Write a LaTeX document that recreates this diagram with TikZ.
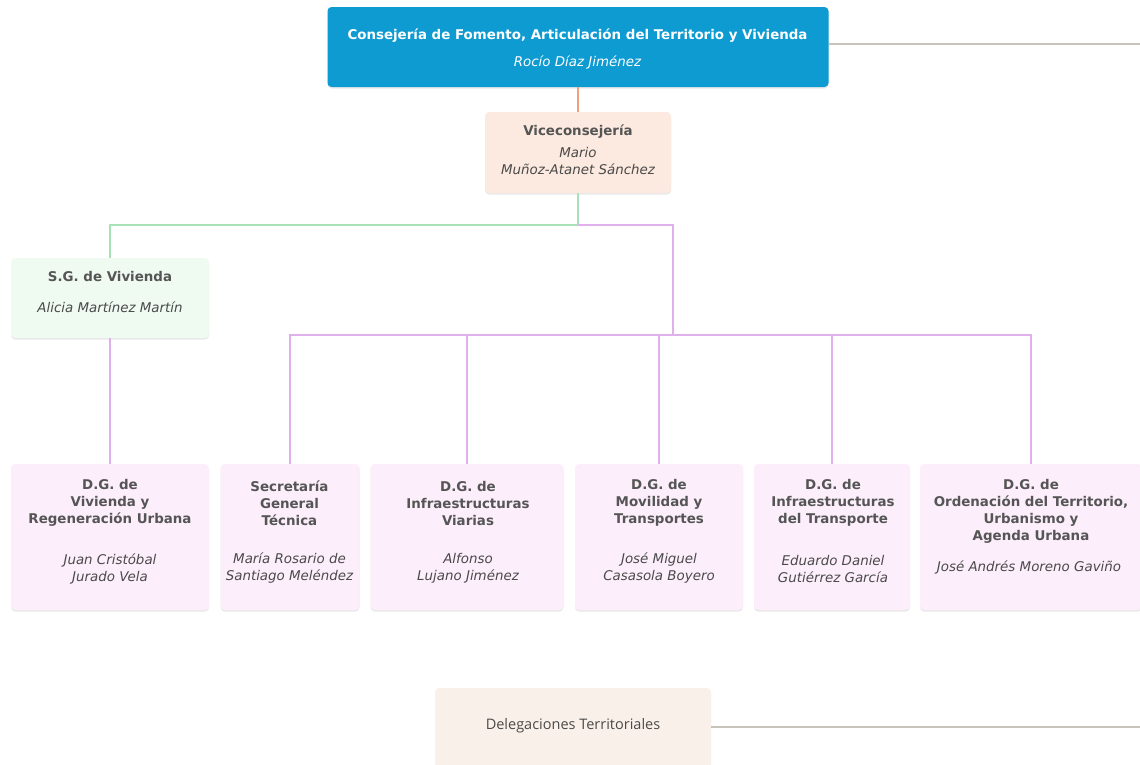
\documentclass[tikz,border=0pt]{standalone}
\usepackage{fontspec}
\setmainfont{DejaVu Sans}
\newfontfamily\delfont{Open Sans}
\usetikzlibrary{shadows}
\definecolor{topblue}{HTML}{0E9BD2}
\definecolor{vicefill}{HTML}{FCE9DF}
\definecolor{sgfill}{HTML}{EFFAF1}
\definecolor{dgfill}{HTML}{FCEEFB}
\definecolor{delfill}{HTML}{FAF0EA}
\definecolor{orline}{HTML}{F0A07A}
\definecolor{grline}{HTML}{A8E0B8}
\definecolor{puline}{HTML}{E0B0EC}
\definecolor{gyline}{HTML}{C8C4BC}
\definecolor{txtgray}{HTML}{555555}
\definecolor{nmgray}{HTML}{4A4A4A}
\tikzset{
  boxnode/.style={draw=none, rounded corners=4pt, inner sep=0pt,
    drop shadow={opacity=0.18, shadow xshift=0pt, shadow yshift=-1.5pt}},
  ttl/.style={font=\fontsize{13.4}{17}\selectfont\bfseries, text=txtgray, align=center, inner sep=0pt},
  nm/.style={font=\fontsize{13.4}{17}\selectfont\itshape, text=nmgray, align=center, inner sep=0pt},
  conn/.style={line width=2pt},
}
\begin{document}
\begin{tikzpicture}[x=1pt,y=-1pt]
\useasboundingbox (0,0) rectangle (1140,764);
% boxes
\node[boxnode, fill=topblue, minimum width=501pt, minimum height=80pt] (top) at (578,47) {};
\node[boxnode, fill=vicefill, minimum width=186pt, minimum height=81pt] (vice) at (578,152.5) {};
\node[boxnode, fill=sgfill, minimum width=198pt, minimum height=80pt] (sg) at (110,298) {};
\node[boxnode, fill=dgfill, minimum width=198pt, minimum height=146pt] (b1) at (110,537) {};
\node[boxnode, fill=dgfill, minimum width=139pt, minimum height=146pt] (b2) at (290,537) {};
\node[boxnode, fill=dgfill, minimum width=193pt, minimum height=146pt] (b3) at (467,537) {};
\node[boxnode, fill=dgfill, minimum width=168pt, minimum height=146pt] (b4) at (659,537) {};
\node[boxnode, fill=dgfill, minimum width=156pt, minimum height=146pt] (b5) at (832,537) {};
\node[boxnode, fill=dgfill, minimum width=222pt, minimum height=146pt] (b6) at (1031,537) {};
\node[boxnode, fill=delfill, minimum width=276pt, minimum height=82pt] (del) at (573,729) {};
% connector points
\coordinate (j1) at (578,225);
\coordinate (j2) at (673,335);
\coordinate (e1) at (1142,44);
\coordinate (e2) at (1142,727);
% connectors
\draw[conn, orline] (top.south) -- (vice.north);
\draw[conn, grline] (vice.south) -- (j1) -| (sg.north);
\draw[conn, puline] (j1) -| (j2);
\draw[conn, puline] (b2.north) |- (j2) -| (b6.north);
\draw[conn, puline] (j2) -| (b3.north);
\draw[conn, puline] (j2) -| (b4.north);
\draw[conn, puline] (j2) -| (b5.north);
\draw[conn, puline] (sg.south) -- (b1.north);
\draw[conn, gyline] (top.east |- e1) -- (e1);
\draw[conn, gyline] (del.east |- e2) -- (e2);
% texts
\node[ttl, text=white] (tt) at (577.5,36) {Consejería de Fomento, Articulación del Territorio y Vivienda};
\node[nm, text=white] (tn) at (577.5,62) {Rocío Díaz Jiménez};
\node[ttl] (vt) at (578,132) {Viceconsejería};
\node[nm] (vn) at (578,160.5) {Mario\\Muñoz-Atanet Sánchez};
\node[ttl] (st) at (110,276) {S.G. de Vivienda};
\node[nm] (sn) at (110,307) {Alicia Martínez Martín};
\node[ttl] (t1) at (110,503) {D.G. de\\Vivienda y\\Regeneración Urbana};
\node[nm] (n1) at (110,568.5) {Juan Cristóbal\\Jurado Vela};
\node[ttl] (t2) at (289.5,503) {Secretaría\\General\\Técnica};
\node[nm] (n2) at (289.5,568.5) {María Rosario de\\Santiago Meléndez};
\node[ttl] (t3) at (468,503) {D.G. de\\Infraestructuras\\Viarias};
\node[nm] (n3) at (468,568.5) {Alfonso\\Lujano Jiménez};
\node[ttl] (t4) at (659,503) {D.G. de\\Movilidad y\\Transportes};
\node[nm] (n4) at (659,568.5) {José Miguel\\Casasola Boyero};
\node[ttl] (t5) at (833,503) {D.G. de\\Infraestructuras\\del Transporte};
\node[nm] (n5) at (833,568.5) {Eduardo Daniel\\Gutiérrez García};
\node[ttl] (t6) at (1031,511.5) {D.G. de\\Ordenación del Territorio,\\Urbanismo y\\Agenda Urbana};
\node[nm] (n6) at (1029,567) {José Andrés Moreno Gaviño};
\node[font=\delfont\fontsize{14.5}{17}\selectfont, text=nmgray, inner sep=0pt] (dt) at (573,726) {Delegaciones Territoriales};
\end{tikzpicture}
\end{document}
